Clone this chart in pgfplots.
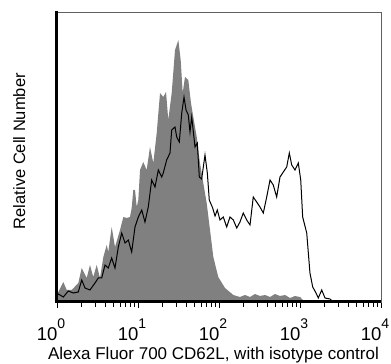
\documentclass[border=0pt]{standalone}
\usepackage{fontspec}
\setmainfont{Liberation Sans}
\usepackage{pgfplots}
\pgfplotsset{compat=1.18}
\definecolor{histgray}{RGB}{128,128,128}
\definecolor{framegray}{RGB}{96,96,96}
\newcommand{\dec}[1]{10\raisebox{12pt}{\fontsize{14}{14}\selectfont #1}}
\begin{document}
\begin{tikzpicture}
\begin{axis}[
  scale only axis, width=324pt, height=290pt,
  xmin=0, xmax=4, ymin=0, ymax=290,
  clip=false,
  axis line style={draw=framegray, line width=0.8pt},
  ytick=\empty,
  xtick={0,1,2,3,4},
  xticklabels={\dec{0},\dec{1},\dec{2},\dec{3},\dec{4}},
  minor xtick={0.301,0.477,0.602,0.699,0.778,0.845,0.903,0.954,
               1.301,1.477,1.602,1.699,1.778,1.845,1.903,1.954,
               2.301,2.477,2.602,2.699,2.778,2.845,2.903,2.954,
               3.301,3.477,3.602,3.699,3.778,3.845,3.903,3.954},
  tick align=outside, xtick pos=bottom,
  major tick length=6pt, minor tick length=5pt,
  every tick/.style={black, line width=0.8pt},
  xticklabel style={font=\fontsize{18.5}{18.5}\selectfont, anchor=base, xshift=-6pt, yshift=-32pt},
  xlabel={Alexa Fluor 700 CD62L, with isotype control},
  xlabel style={font=\fontsize{17}{17}\selectfont, at={(axis description cs:0.483,-0.197)}, anchor=base},
  ylabel={Relative Cell Number},
  ylabel style={font=\fontsize{16.5}{16.5}\selectfont, at={(axis description cs:-0.0985,0.52)}, anchor=base},
]
% isotype control (filled)
\addplot[fill=histgray, draw=none] coordinates {
(0.000,10) (0.016,10) (0.078,20) (0.120,12) (0.181,12) (0.263,19) (0.305,34) (0.367,24)
(0.407,37) (0.448,25) (0.490,37) (0.531,24) (0.572,45) (0.614,57) (0.633,50) (0.675,75)
(0.716,55) (0.778,72) (0.819,85) (0.860,84) (0.901,85) (0.922,94) (0.942,112) (0.963,112)
(0.984,95) (1.004,102) (1.025,132) (1.065,140) (1.107,132) (1.148,155) (1.189,139) (1.231,169)
(1.272,209) (1.312,205) (1.346,210) (1.374,182) (1.416,209) (1.457,252) (1.498,262) (1.527,242)
(1.552,209) (1.580,225) (1.621,222) (1.654,199) (1.683,185) (1.725,165) (1.765,139) (1.806,119)
(1.848,99) (1.889,72) (1.930,45) (1.991,25) (2.074,14) (2.177,7) (2.259,5) (2.321,7)
(2.383,5) (2.444,8) (2.506,6) (2.568,7) (2.630,5) (2.691,8) (2.753,6) (2.815,7)
(2.877,4) (2.938,6) (3.000,5) (3.037,2) (3.099,0)
} \closedcycle;
% CD62L (line)
\addplot[black, line width=1pt] coordinates {
(0.006,7) (0.016,8) (0.078,5) (0.140,11) (0.201,9) (0.263,10) (0.305,22) (0.346,14)
(0.407,12) (0.469,19) (0.510,24) (0.552,24) (0.593,37) (0.633,34) (0.675,44) (0.716,34)
(0.757,55) (0.799,69) (0.840,59) (0.880,62) (0.922,50) (0.963,75) (1.004,85) (1.046,92)
(1.086,80) (1.127,95) (1.169,122) (1.210,115) (1.251,132) (1.293,125) (1.312,129) (1.354,142)
(1.395,149) (1.416,172) (1.457,175) (1.478,165) (1.510,160) (1.540,189) (1.568,205) (1.593,192)
(1.621,187) (1.642,170) (1.663,185) (1.704,155) (1.732,159) (1.757,125) (1.786,123) (1.827,147)
(1.856,129) (1.880,102) (1.922,94) (1.951,86) (1.979,92) (2.012,82) (2.053,85) (2.095,75)
(2.136,85) (2.177,82) (2.219,74) (2.259,80) (2.300,89) (2.342,82) (2.383,77) (2.423,105)
(2.465,100) (2.506,95) (2.547,89) (2.589,105) (2.630,122) (2.670,117) (2.712,105) (2.753,125)
(2.794,130) (2.836,135) (2.868,149) (2.898,137) (2.938,132) (2.979,139) (3.009,122) (3.033,85)
(3.083,69) (3.123,29) (3.157,15) (3.198,9) (3.226,4) (3.268,12) (3.309,4) (3.370,3)
(3.411,0)
};
\draw[black, line width=3pt] (rel axis cs:0,1) ++(0,1pt) -- (rel axis cs:0,0) -- (rel axis cs:1,0);
\end{axis}
\pgfresetboundingbox
\path (-57pt,-62pt) rectangle (334pt,302pt);
\end{tikzpicture}
\end{document}
